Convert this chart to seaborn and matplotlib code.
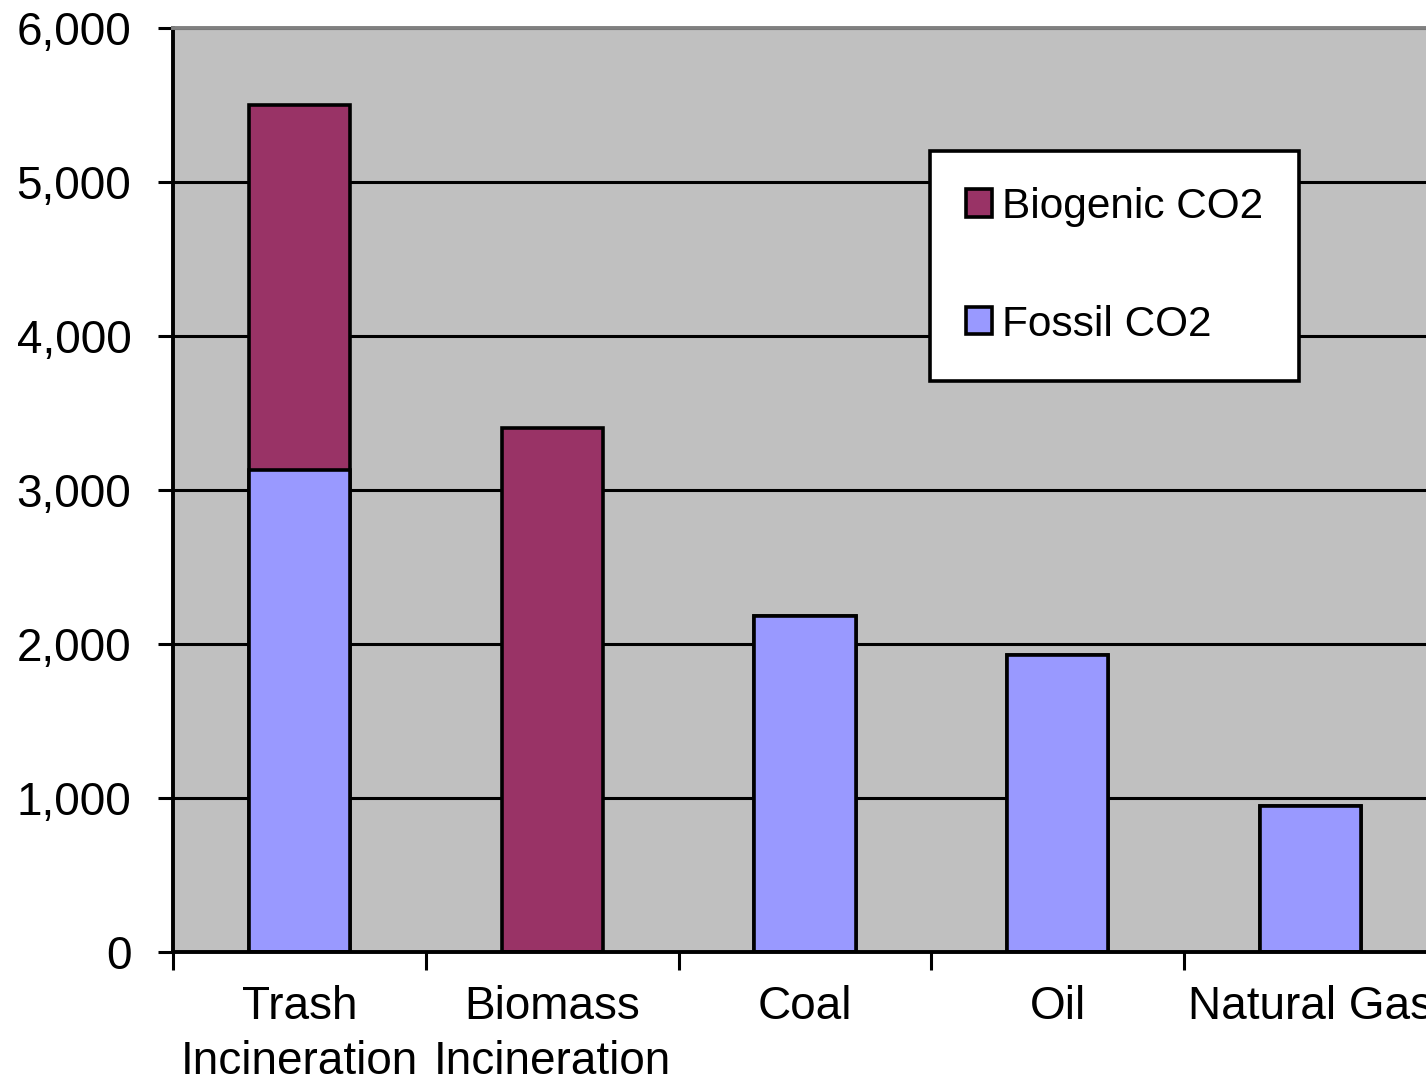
import matplotlib
import matplotlib.pyplot as plt
import seaborn as sns
from matplotlib.patches import Patch
from matplotlib.ticker import FixedLocator, StrMethodFormatter

matplotlib.use("agg")

# Data
categories = ["Trash\nIncineration", "Biomass\nIncineration", "Coal", "Oil", "Natural Gas"]
fossil_co2 = [3130, 0, 2180, 1930, 950]
biogenic_co2 = [2370, 3400, 0, 0, 0]
y_ticks = [0, 1000, 2000, 3000, 4000, 5000, 6000]

BIOGENIC_COLOR = "#993366"
FOSSIL_COLOR = "#9999FF"
PLOT_BG = "#C0C0C0"

sns.set_theme(style="white")
plt.rcParams["font.family"] = ["Liberation Sans", "DejaVu Sans"]
plt.rcParams["text.color"] = "black"

W, H = 1426, 1080
fig = plt.figure(figsize=(W / 100, H / 100), dpi=100)
# axes run past the right edge of the picture, as in the original
ax = fig.add_axes([173 / W, 128 / H, 1264 / W, 924 / H])
ax.set_facecolor(PLOT_BG)

totals = [f + b for f, b in zip(fossil_co2, biogenic_co2)]
bar_kw = dict(width=0.4, edgecolor="black", linewidth=2.6, saturation=1, ax=ax)
sns.barplot(x=categories, y=totals, color=BIOGENIC_COLOR, **bar_kw)
sns.barplot(x=categories, y=fossil_co2, color=FOSSIL_COLOR, **bar_kw)

ax.set_xlim(-0.5, 4.5)
ax.set_ylim(0, 6000)
ax.set_yticks(y_ticks)
ax.yaxis.set_major_formatter(StrMethodFormatter("{x:,.0f}"))
ax.set_xlabel("")
ax.set_ylabel("")

# horizontal black gridlines behind bars
ax.set_axisbelow(True)
ax.yaxis.grid(True, color="black", linewidth=2.2)
ax.xaxis.grid(False)

for side in ["left", "bottom"]:
    ax.spines[side].set_color("black")
    ax.spines[side].set_linewidth(2.8)
ax.spines["top"].set_color("#808080")
ax.spines["top"].set_linewidth(2.8)
ax.spines["right"].set_visible(False)

# category labels centred, tick marks between categories
ax.tick_params(axis="x", which="major", length=0, pad=24, labelsize=33, colors="black")
for lbl in ax.get_xticklabels():
    lbl.set_linespacing(1.3)
ax.xaxis.set_minor_locator(FixedLocator([-0.5, 0.5, 1.5, 2.5, 3.5, 4.5]))
ax.tick_params(axis="x", which="minor", bottom=True, length=13, width=2.2, color="black")
ax.tick_params(axis="y", left=True, length=11, width=2.2, pad=19, labelsize=33,
               colors="black")

handles = [
    Patch(facecolor=BIOGENIC_COLOR, edgecolor="black", linewidth=2.6, label="Biogenic CO2"),
    Patch(facecolor=FOSSIL_COLOR, edgecolor="black", linewidth=2.6, label="Fossil CO2"),
]
leg = ax.legend(
    handles=handles,
    loc="upper left",
    bbox_to_anchor=(930 / W, 1 - 151 / H),
    bbox_transform=fig.transFigure,
    fontsize=30.5,
    frameon=True,
    fancybox=False,
    framealpha=1,
    edgecolor="black",
    facecolor="white",
    handlelength=0.61,
    handleheight=0.61,
    handletextpad=0.24,
    labelspacing=1.83,
    borderpad=0.85,
    borderaxespad=0,
)
leg.get_frame().set_linewidth(2.6)

fig.savefig("out.png", dpi=100)
